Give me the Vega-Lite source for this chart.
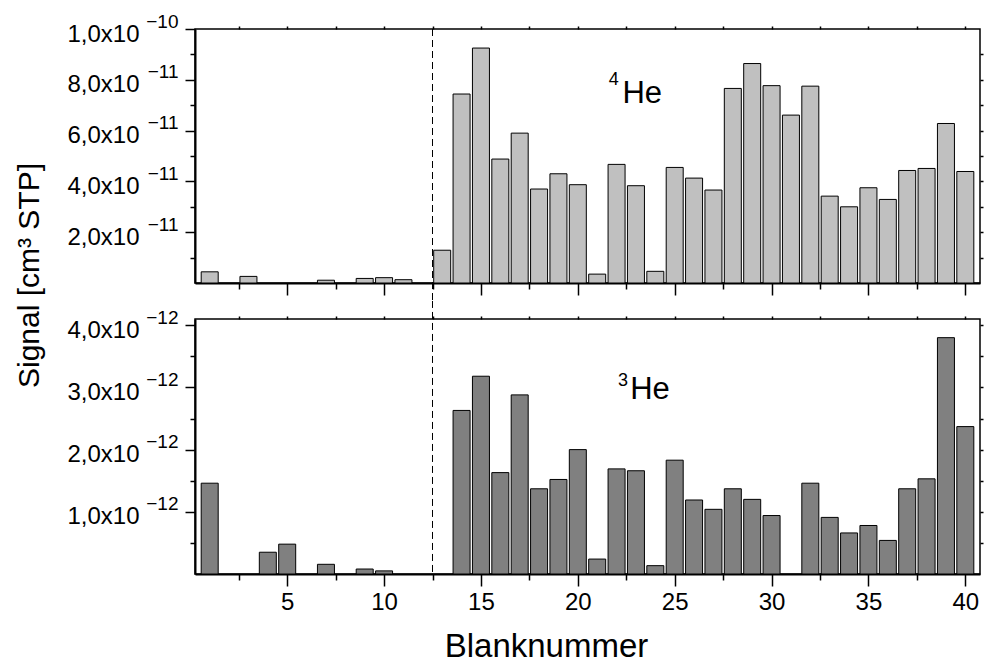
{
  "$schema": "https://vega.github.io/schema/vega-lite/v6.json",
  "autosize": {"type": "pad"},
  "padding": {"left": 13, "top": 11, "right": 2, "bottom": 0},
  "bounds": "flush",
  "spacing": 36,
  "background": "white",
  "config": {
    "font": "Liberation Sans",
    "view": {"stroke": "black", "strokeWidth": 1.5},
    "axis": {"domainColor": "black", "tickColor": "black", "labelColor": "black", "titleColor": "black", "grid": false, "labelFont": "Liberation Sans", "titleFont": "Liberation Sans", "titleFontWeight": "normal", "tickWidth": 1.5, "domainWidth": 2}
  },
  "datasets": {
    "he4": [
      {"n": 1, "v": 4.4e-12}, {"n": 3, "v": 2.6e-12}, {"n": 7, "v": 1.1e-12}, {"n": 9, "v": 1.8e-12},
      {"n": 10, "v": 2.1e-12}, {"n": 11, "v": 1.3e-12}, {"n": 13, "v": 1.29e-11}, {"n": 14, "v": 7.44e-11},
      {"n": 15, "v": 9.25e-11}, {"n": 16, "v": 4.88e-11}, {"n": 17, "v": 5.9e-11}, {"n": 18, "v": 3.70e-11},
      {"n": 19, "v": 4.30e-11}, {"n": 20, "v": 3.87e-11}, {"n": 21, "v": 3.5e-12}, {"n": 22, "v": 4.67e-11},
      {"n": 23, "v": 3.83e-11}, {"n": 24, "v": 4.6e-12}, {"n": 25, "v": 4.55e-11}, {"n": 26, "v": 4.13e-11},
      {"n": 27, "v": 3.66e-11}, {"n": 28, "v": 7.66e-11}, {"n": 29, "v": 8.64e-11}, {"n": 30, "v": 7.77e-11},
      {"n": 31, "v": 6.61e-11}, {"n": 32, "v": 7.75e-11}, {"n": 33, "v": 3.42e-11}, {"n": 34, "v": 3.0e-11},
      {"n": 35, "v": 3.75e-11}, {"n": 36, "v": 3.29e-11}, {"n": 37, "v": 4.43e-11}, {"n": 38, "v": 4.51e-11},
      {"n": 39, "v": 6.28e-11}, {"n": 40, "v": 4.39e-11}
    ],
    "he3": [
      {"n": 1, "v": 1.46e-12}, {"n": 4, "v": 0.35e-12}, {"n": 5, "v": 0.48e-12}, {"n": 7, "v": 0.156e-12},
      {"n": 9, "v": 0.08e-12}, {"n": 10, "v": 0.05e-12}, {"n": 14, "v": 2.63e-12}, {"n": 15, "v": 3.18e-12},
      {"n": 16, "v": 1.63e-12}, {"n": 17, "v": 2.88e-12}, {"n": 18, "v": 1.37e-12}, {"n": 19, "v": 1.52e-12},
      {"n": 20, "v": 2.0e-12}, {"n": 21, "v": 0.24e-12}, {"n": 22, "v": 1.69e-12}, {"n": 23, "v": 1.66e-12},
      {"n": 24, "v": 0.134e-12}, {"n": 25, "v": 1.83e-12}, {"n": 26, "v": 1.19e-12}, {"n": 27, "v": 1.04e-12},
      {"n": 28, "v": 1.37e-12}, {"n": 29, "v": 1.20e-12}, {"n": 30, "v": 0.94e-12}, {"n": 32, "v": 1.46e-12},
      {"n": 33, "v": 0.91e-12}, {"n": 34, "v": 0.66e-12}, {"n": 35, "v": 0.78e-12}, {"n": 36, "v": 0.54e-12},
      {"n": 37, "v": 1.37e-12}, {"n": 38, "v": 1.53e-12}, {"n": 39, "v": 3.80e-12}, {"n": 40, "v": 2.37e-12}
    ]
  },
  "vconcat": [
    {
      "width": 785,
      "height": 254,
      "resolve": {"axis": {"x": "independent", "y": "independent"}},
      "layer": [
        {
          "data": {"name": "he4"},
          "mark": {"type": "bar", "width": 17, "fill": "#c0c0c0", "stroke": "#000000", "strokeWidth": 1},
          "encoding": {
            "x": {"field": "n", "type": "quantitative", "scale": {"domain": [0.5, 40.5], "nice": false, "zero": false},
              "axis": {"orient": "bottom", "values": [5, 10, 15, 20, 25, 30, 35, 40], "tickSize": 12, "labels": false, "title": null}},
            "y": {"field": "v", "type": "quantitative", "scale": {"domain": [0, 1e-10], "nice": false},
              "axis": {"orient": "left", "values": [2e-11, 4e-11, 6e-11, 8e-11, 1e-10], "tickSize": 10, "labelFontSize": 24, "labelPadding": 46, "labelOffset": 5,
                "labelExpr": "datum.value > 9.5e-11 ? '1,0x10' : replace(format(datum.value*1e11, '.1f'), '.', ',') + 'x10'",
                "title": "Signal [cm³ STP]", "titleFontSize": 30, "titleX": -151, "titleY": 246}}
          }
        },
        {
          "data": {"values": [{}]},
          "mark": {"type": "rule", "strokeDash": [7, 4], "strokeWidth": 1, "color": "black"},
          "encoding": {
            "x": {"datum": 12.5, "type": "quantitative", "scale": {"domain": [0.5, 40.5], "nice": false, "zero": false},
              "axis": {"orient": "bottom", "values": [2.5, 7.5, 12.5, 17.5, 22.5, 27.5, 32.5, 37.5], "tickSize": 6, "labels": false, "domain": false, "title": null}},
            "y": {"datum": 1e-10, "type": "quantitative", "scale": {"domain": [0, 1e-10], "nice": false},
              "axis": {"orient": "left", "values": [1e-11, 3e-11, 5e-11, 7e-11, 9e-11], "tickSize": 5, "labels": false, "domain": false, "title": null}},
            "y2": {"datum": -7.1e-12}
          }
        },
        {
          "data": {"values": [{}]},
          "mark": {"type": "text", "fontSize": 31, "align": "left", "baseline": "alphabetic", "color": "black"},
          "encoding": {
            "x": {"datum": 22.3, "type": "quantitative", "scale": {"domain": [0.5, 40.5], "nice": false, "zero": false},
              "axis": {"orient": "top", "values": [2.5, 5, 7.5, 10, 12.5, 15, 17.5, 20, 22.5, 25, 27.5, 30, 32.5, 35, 37.5, 40], "tickSize": 3, "labels": false, "domain": false, "title": null}},
            "y": {"datum": 7.09e-11, "type": "quantitative", "scale": {"domain": [0, 1e-10], "nice": false},
              "axis": {"orient": "right", "values": [1e-11, 2e-11, 3e-11, 4e-11, 5e-11, 6e-11, 7e-11, 8e-11, 9e-11], "tickSize": 3, "labels": false, "domain": false, "title": null}},
            "text": {"value": "He"}
          }
        },
        {
          "data": {"values": [{}]},
          "mark": {"type": "text", "fontSize": 18, "align": "left", "baseline": "alphabetic", "color": "black"},
          "encoding": {
            "x": {"datum": 21.6, "type": "quantitative", "scale": {"domain": [0.5, 40.5], "nice": false, "zero": false}, "axis": null},
            "y": {"datum": 7.79e-11, "type": "quantitative", "scale": {"domain": [0, 1e-10], "nice": false},
              "axis": {"orient": "left", "values": [2e-11, 4e-11, 6e-11, 8e-11, 1e-10], "ticks": true, "tickSize": 0, "domain": false, "labelFontSize": 19, "labelPadding": 17, "labelOffset": -8,
                "labelExpr": "datum.value > 9.5e-11 ? '−10' : '−11'", "title": null}},
            "text": {"value": "4"}
          }
        }
      ]
    },
    {
      "width": 785,
      "height": 255,
      "resolve": {"axis": {"x": "independent", "y": "independent"}},
      "layer": [
        {
          "data": {"name": "he3"},
          "mark": {"type": "bar", "width": 17, "fill": "#808080", "stroke": "#000000", "strokeWidth": 1},
          "encoding": {
            "x": {"field": "n", "type": "quantitative", "scale": {"domain": [0.5, 40.5], "nice": false, "zero": false},
              "axis": {"orient": "bottom", "values": [5, 10, 15, 20, 25, 30, 35, 40], "tickSize": 12, "labelFontSize": 24, "labelPadding": 4,
                "title": "Blanknummer", "titleFontSize": 33, "titleBaseline": "alphabetic", "titleY": 82, "titleX": 351}},
            "y": {"field": "v", "type": "quantitative", "scale": {"domain": [0, 4.1e-12], "nice": false},
              "axis": {"orient": "left", "values": [1e-12, 2e-12, 3e-12, 4e-12], "tickSize": 10, "labelFontSize": 24, "labelPadding": 46, "labelOffset": 5,
                "labelExpr": "replace(format(datum.value*1e12, '.1f'), '.', ',') + 'x10'", "title": null}}
          }
        },
        {
          "data": {"values": [{}]},
          "mark": {"type": "rule", "strokeDash": [7, 4], "strokeWidth": 1, "color": "black"},
          "encoding": {
            "x": {"datum": 12.5, "type": "quantitative", "scale": {"domain": [0.5, 40.5], "nice": false, "zero": false},
              "axis": {"orient": "bottom", "values": [2.5, 7.5, 12.5, 17.5, 22.5, 27.5, 32.5, 37.5], "tickSize": 6, "labels": false, "domain": false, "title": null}},
            "y": {"datum": 4.39e-12, "type": "quantitative", "scale": {"domain": [0, 4.1e-12], "nice": false},
              "axis": {"orient": "left", "values": [0.5e-12, 1.5e-12, 2.5e-12, 3.5e-12], "tickSize": 5, "labels": false, "domain": false, "title": null}},
            "y2": {"datum": 0}
          }
        },
        {
          "data": {"values": [{}]},
          "mark": {"type": "text", "fontSize": 31, "align": "left", "baseline": "alphabetic", "color": "black"},
          "encoding": {
            "x": {"datum": 22.7, "type": "quantitative", "scale": {"domain": [0.5, 40.5], "nice": false, "zero": false},
              "axis": {"orient": "top", "values": [2.5, 5, 7.5, 10, 12.5, 15, 17.5, 20, 22.5, 25, 27.5, 30, 32.5, 35, 37.5, 40], "tickSize": 3, "labels": false, "domain": false, "title": null}},
            "y": {"datum": 2.81e-12, "type": "quantitative", "scale": {"domain": [0, 4.1e-12], "nice": false},
              "axis": {"orient": "right", "values": [0.5e-12, 1e-12, 1.5e-12, 2e-12, 2.5e-12, 3e-12, 3.5e-12, 4e-12], "tickSize": 3, "labels": false, "domain": false, "title": null}},
            "text": {"value": "He"}
          }
        },
        {
          "data": {"values": [{}]},
          "mark": {"type": "text", "fontSize": 18, "align": "left", "baseline": "alphabetic", "color": "black"},
          "encoding": {
            "x": {"datum": 22.08, "type": "quantitative", "scale": {"domain": [0.5, 40.5], "nice": false, "zero": false}, "axis": null},
            "y": {"datum": 3.02e-12, "type": "quantitative", "scale": {"domain": [0, 4.1e-12], "nice": false},
              "axis": {"orient": "left", "values": [1e-12, 2e-12, 3e-12, 4e-12], "ticks": true, "tickSize": 0, "domain": false, "labelFontSize": 19, "labelPadding": 17, "labelOffset": -8,
                "labelExpr": "'−12'", "title": null}},
            "text": {"value": "3"}
          }
        }
      ]
    }
  ]
}
